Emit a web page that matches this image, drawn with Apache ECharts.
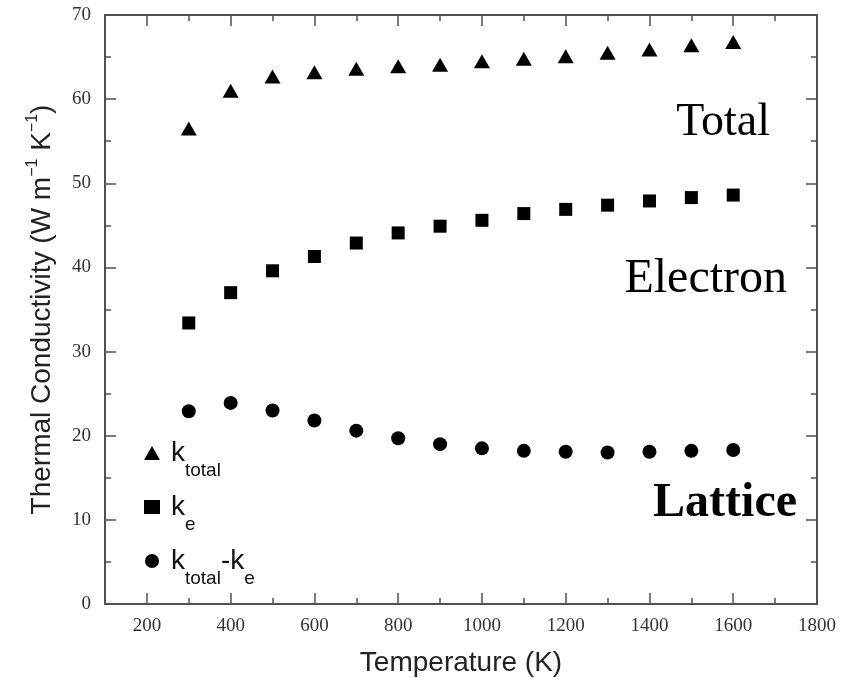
<!DOCTYPE html>
<html>
<head>
<meta charset="utf-8">
<script src="https://cdn.jsdelivr.net/npm/echarts@6/dist/echarts.min.js"></script>
<style>
  html, body { margin: 0; padding: 0; background: #fff; }
  #chart { width: 851px; height: 678px; }
</style>
</head>
<body>
<div id="chart"></div>
<script>
// temperatures (K)
const temps = [300, 400, 500, 600, 700, 800, 900, 1000, 1100, 1200, 1300, 1400, 1500, 1600];
// thermal conductivity (W m-1 K-1)
const kTotal = [56.5, 61.0, 62.7, 63.2, 63.6, 63.9, 64.1, 64.5, 64.8, 65.1, 65.5, 65.9, 66.4, 66.8];
const kElectron = [33.4, 37.0, 39.6, 41.3, 42.9, 44.1, 44.9, 45.6, 46.4, 46.9, 47.4, 47.9, 48.3, 48.6];
const kLattice = [22.9, 23.9, 23.0, 21.8, 20.6, 19.7, 19.0, 18.5, 18.2, 18.1, 18.0, 18.1, 18.2, 18.3];
// axis ticks
const xLabels = [200, 400, 600, 800, 1000, 1200, 1400, 1600, 1800];
const xMajorTicks = [200, 400, 600, 800, 1000, 1200, 1400, 1600, 1800];

const axisColor = '#505050';
const serif = '"Liberation Serif", "Times New Roman", serif';
const sans = '"Liberation Sans", Arial, sans-serif';

function pairs(ys) {
    return temps.map(function (t, i) { return [t, ys[i]]; });
}

function xAxisBase(position, showLabels) {
    return [
        {
            type: 'value',
            position: position,
            min: 100,
            max: 1800,
            interval: 100,
            axisLine: { onZero: false, lineStyle: { color: axisColor, width: 2 } },
            axisTick: { inside: true, length: 6, lineStyle: { color: axisColor, width: 1.5 } },
            axisLabel: showLabels ? {
                customValues: xLabels,
                formatter: function (v) { return String(v); },
                fontFamily: serif, fontSize: 19, color: '#333', margin: 13
            } : { show: false },
            splitLine: { show: false }
        },
        {
            type: 'value',
            position: position,
            min: 100,
            max: 1800,
            axisLine: { show: false, onZero: false },
            axisTick: { inside: true, length: 11, customValues: xMajorTicks, lineStyle: { color: axisColor, width: 1.5 } },
            axisLabel: { show: false },
            splitLine: { show: false }
        }
    ];
}

function yAxisBase(position, showLabels) {
    return {
        type: 'value',
        position: position,
        min: 0,
        max: 70,
        interval: 10,
        axisLine: { show: true, onZero: false, lineStyle: { color: axisColor, width: 2 } },
        axisTick: { inside: true, length: 11, lineStyle: { color: axisColor, width: 1.5 } },
        minorTick: { show: true, splitNumber: 2, length: 6, lineStyle: { color: axisColor, width: 1.5 } },
        axisLabel: showLabels ? { fontFamily: serif, fontSize: 19, color: '#333', margin: 14 } : { show: false },
        splitLine: { show: false }
    };
}

const chart = echarts.init(document.getElementById('chart'));

const bottomAxes = xAxisBase('bottom', true);
bottomAxes[0].name = 'Temperature (K)';
bottomAxes[0].nameLocation = 'middle';
bottomAxes[0].nameGap = 45;
bottomAxes[0].nameTextStyle = { fontFamily: sans, fontSize: 28, color: '#222' };

const leftAxis = yAxisBase('left', true);
leftAxis.name = '{t|Thermal Conductivity (W m}{sup|−1}{t| K}{sup|−1}{t|)}';
leftAxis.nameLocation = 'middle';
leftAxis.nameGap = 46;
leftAxis.nameTextStyle = {
    fontFamily: sans,
    color: '#222',
    rich: {
        t: { fontFamily: sans, fontSize: 28, color: '#222', lineHeight: 34 },
        sup: { fontFamily: sans, fontSize: 16, color: '#222', lineHeight: 18, verticalAlign: 'top' }
    }
};

const legendNames = {
    'k_total': '{k|k}{sub|total}',
    'k_e': '{k|k}{sub|e}',
    'k_total-k_e': '{k|k}{sub|total}{kk|-k}{sub|e}'
};

const option = {
    animation: false,
    backgroundColor: '#fff',
    grid: { left: 105, right: 34, top: 15, bottom: 74, outerBoundsMode: 'none' },
    xAxis: bottomAxes.concat(xAxisBase('top', false)),
    yAxis: [leftAxis, yAxisBase('right', false)],
    legend: {
        orient: 'vertical',
        left: 144,
        top: 439,
        padding: 0,
        itemGap: 13,
        itemWidth: 16,
        itemHeight: 14,
        data: [
            { name: 'k_total', icon: 'triangle' },
            { name: 'k_e', icon: 'rect' },
            { name: 'k_total-k_e', icon: 'circle' }
        ],
        formatter: function (name) { return legendNames[name]; },
        textStyle: {
            rich: {
                k: { fontFamily: sans, fontSize: 28, color: '#111', lineHeight: 54, verticalAlign: 'middle', padding: [0, 0, 0, 6] },
                kk: { fontFamily: sans, fontSize: 28, color: '#111', lineHeight: 54, verticalAlign: 'middle' },
                sub: { fontFamily: sans, fontSize: 19, color: '#111', lineHeight: 18, verticalAlign: 'bottom' }
            }
        }
    },
    graphic: [
        { type: 'text', right: 81, top: 100, style: { text: 'Total', font: '46px ' + serif, fill: '#000' } },
        { type: 'text', right: 64, top: 255, style: { text: 'Electron', font: '48px ' + serif, fill: '#000' } },
        { type: 'text', right: 54, top: 480, style: { text: 'Lattice', font: 'bold 48px ' + serif, fill: '#000' } }
    ],
    series: [
        {
            name: 'k_total',
            type: 'scatter',
            symbol: 'triangle',
            symbolSize: [16, 14],
            itemStyle: { color: '#000', opacity: 1 },
            data: pairs(kTotal)
        },
        {
            name: 'k_e',
            type: 'scatter',
            symbol: 'rect',
            symbolSize: 13,
            itemStyle: { color: '#000', opacity: 1 },
            data: pairs(kElectron)
        },
        {
            name: 'k_total-k_e',
            type: 'scatter',
            symbol: 'circle',
            symbolSize: 14,
            itemStyle: { color: '#000', opacity: 1 },
            data: pairs(kLattice)
        }
    ]
};

chart.setOption(option);
</script>
</body>
</html>
